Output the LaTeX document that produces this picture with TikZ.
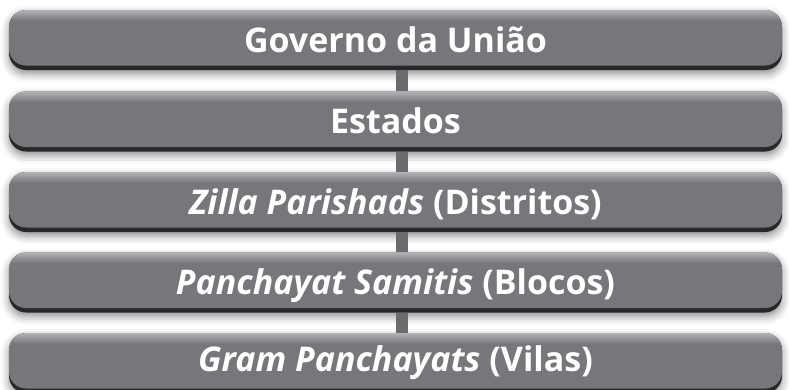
\documentclass[tikz,border=0pt]{standalone}
\usepackage{fontspec}
\newfontfamily\barfont{Open Sans}
\usetikzlibrary{shadows.blur}
\definecolor{barG}{RGB}{118,119,123}
\definecolor{barL}{RGB}{150,151,154}
\definecolor{barL2}{RGB}{178,179,182}
\definecolor{barDark}{RGB}{40,40,42}
\definecolor{connG}{RGB}{107,107,111}
\pgfdeclareverticalshading{barbody}{100bp}{color(0bp)=(barG); color(66bp)=(barG); color(71bp)=(barL); color(75bp)=(barL2); color(100bp)=(barL2)}
\tikzset{
  bar/.style={rounded corners=17pt, fill=barDark, minimum width=773pt, minimum height=60pt,
    inner sep=0pt, text=white, font=\barfont\bfseries\fontsize{34}{38}\selectfont,
    text height=24pt, text depth=0pt,
    blur shadow={shadow xshift=0pt, shadow yshift=-4pt, shadow blur radius=8pt, shadow opacity=45},
    path picture={\path[rounded corners=17pt, shading=barbody]
      (path picture bounding box.north west) rectangle ([yshift=4.5pt]path picture bounding box.south east);}},
  conn/.style={draw=connG, line width=12pt}
}
\begin{document}
\begin{tikzpicture}
\clip (0,0) rectangle (789pt,-389pt);
\useasboundingbox (0,0) rectangle (789pt,-389pt);
\node[bar] (b1) at (395.5pt,-40pt) {Governo da União};
\node[bar] (b2) at (395.5pt,-121.5pt) {Estados};
\node[bar] (b3) at (395.5pt,-202pt) {\itshape Zilla Parishads \upshape(Distritos)};
\node[bar] (b4) at (395.5pt,-282.5pt) {\itshape Panchayat Samitis \upshape(Blocos)};
\node[bar] (b5) at (395.5pt,-363pt) {\raisebox{3.5pt}{\itshape Gram Panchayats \upshape(Vilas)}};
\foreach \a/\b in {b1/b2,b2/b3,b3/b4,b4/b5}
  \draw[conn] ([xshift=6.5pt]\a.south) -- ([xshift=6.5pt]\b.north);
\end{tikzpicture}
\end{document}
